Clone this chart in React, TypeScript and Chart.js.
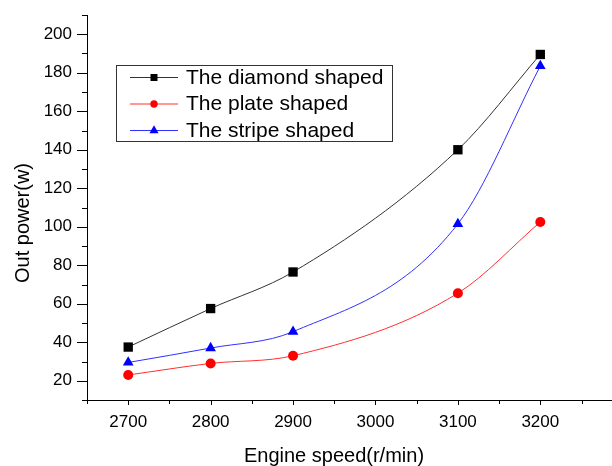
import React, { useEffect, useRef } from 'react';
import { Chart, registerables } from 'chart.js';

Chart.register(...registerables);

const speeds = [2700, 2800, 2900, 3100, 3200];
const diamond = [37.5, 57.5, 76.5, 140, 189.5];
const plate = [23, 29, 33, 65.5, 102.5];
const stripe = [29.5, 37, 45.5, 101.5, 183.5];
const seriesNames = ['The diamond shaped', 'The plate shaped', 'The stripe shaped'];
const seriesColors = ['#000000', '#ff0000', '#0000ff'];
const lineColors = ['#333333', '#ff3030', '#3030ff'];
const seriesMarkers = ['rect', 'circle', 'triangle'];
const xTicks = [2700, 2800, 2900, 3000, 3100, 3200];
const xMinorTicks = [2650, 2750, 2850, 2950, 3050, 3150, 3250];
const yTicks = [20, 40, 60, 80, 100, 120, 140, 160, 180, 200];
const yMinorTicks = [10, 30, 50, 70, 90, 110, 130, 150, 170, 190, 210];
const xTitle = 'Engine speed(r/min)';
const yTitle = 'Out power(w)';

const FONT = '"Liberation Sans", Arial, Helvetica, sans-serif';

function drawMarker(ctx: CanvasRenderingContext2D, style: string, x: number, y: number, s: number, color: string) {
  ctx.save();
  ctx.fillStyle = color;
  ctx.beginPath();
  if (style === 'rect') {
    ctx.rect(x - s, y - s, 2 * s, 2 * s);
  } else if (style === 'circle') {
    ctx.arc(x, y, s, 0, Math.PI * 2);
  } else {
    const r = s * 1.25;
    ctx.moveTo(x, y - r);
    ctx.lineTo(x + r * 0.866, y + r * 0.5);
    ctx.lineTo(x - r * 0.866, y + r * 0.5);
    ctx.closePath();
  }
  ctx.fill();
  ctx.restore();
}

const decorPlugin = {
  id: 'decor',
  afterDraw(chart: any) {
    const ctx: CanvasRenderingContext2D = chart.ctx;
    const xs = chart.scales.x;
    const ys = chart.scales.y;
    const area = chart.chartArea;
    ctx.save();
    ctx.strokeStyle = '#000';
    ctx.lineWidth = 1;
    ctx.beginPath();
    yTicks.forEach((v) => {
      const p = Math.round(ys.getPixelForValue(v)) + 0.5;
      ctx.moveTo(area.left - 10, p);
      ctx.lineTo(area.left, p);
    });
    yMinorTicks.forEach((v) => {
      const p = Math.round(ys.getPixelForValue(v)) + 0.5;
      ctx.moveTo(area.left - 5, p);
      ctx.lineTo(area.left, p);
    });
    xTicks.forEach((v) => {
      const p = Math.round(xs.getPixelForValue(v)) + 0.5;
      ctx.moveTo(p, area.bottom);
      ctx.lineTo(p, area.bottom + 5);
    });
    xMinorTicks.forEach((v) => {
      const p = Math.round(xs.getPixelForValue(v)) + 0.5;
      ctx.moveTo(p, area.bottom);
      ctx.lineTo(p, area.bottom + 4);
    });
    ctx.stroke();

    ctx.fillStyle = '#000';
    ctx.font = `20px ${FONT}`;
    ctx.textAlign = 'center';
    ctx.textBaseline = 'middle';
    ctx.fillText(xTitle, 334, 456);
    ctx.save();
    ctx.translate(23, 223);
    ctx.rotate(-Math.PI / 2);
    ctx.fillText(yTitle, 0, 0);
    ctx.restore();

    ctx.strokeStyle = '#333';
    ctx.lineWidth = 1;
    ctx.strokeRect(116.5, 65.5, 276, 76);
    const rows = [77, 103.5, 130];
    ctx.font = `21px ${FONT}`;
    ctx.textAlign = 'left';
    ctx.textBaseline = 'middle';
    rows.forEach((ry, i) => {
      ctx.strokeStyle = lineColors[i];
      ctx.beginPath();
      ctx.moveTo(130, ry + 0.5);
      ctx.lineTo(178, ry + 0.5);
      ctx.stroke();
      const s = seriesMarkers[i] === 'rect' ? 3.5 : seriesMarkers[i] === 'circle' ? 3.7 : 4.2;
      drawMarker(ctx, seriesMarkers[i], 154, ry + 0.5, s, seriesColors[i]);
      ctx.fillStyle = '#000';
      ctx.fillText(seriesNames[i], 186, ry + 1);
    });
    ctx.restore();
  },
};

export default function App() {
  const ref = useRef<HTMLCanvasElement | null>(null);
  useEffect(() => {
    document.body.style.margin = '0';
    if (!ref.current) return;
    const mk = (vals: number[]) => speeds.map((x, i) => ({ x, y: vals[i] }));
    const all = [diamond, plate, stripe];
    const chart = new Chart(ref.current, {
      type: 'line',
      data: {
        datasets: all.map((vals, i) => ({
          label: seriesNames[i],
          data: mk(vals),
          borderColor: lineColors[i],
          backgroundColor: seriesColors[i],
          borderWidth: 1,
          pointStyle: seriesMarkers[i] as any,
          pointRadius: seriesMarkers[i] === 'rect' ? 6.6 : seriesMarkers[i] === 'circle' ? 5 : 6.2,
          pointBorderWidth: 0,
          pointBackgroundColor: seriesColors[i],
          pointBorderColor: seriesColors[i],
          cubicInterpolationMode: 'monotone' as const,
          fill: false,
        })),
      },
      options: {
        responsive: false,
        animation: false,
        layout: { autoPadding: false, padding: { top: 15, right: 0, left: 0, bottom: 0 } },
        plugins: { legend: { display: false }, tooltip: { enabled: false }, title: { display: false } },
        scales: {
          x: {
            type: 'linear',
            min: 2650,
            max: 3287,
            grid: { display: false, drawTicks: false },
            border: { display: true, color: '#000', width: 1 },
            afterBuildTicks: (scale: any) => {
              scale.ticks = xTicks.map((v) => ({ value: v }));
            },
            afterFit: (scale: any) => {
              scale.height = 66;
              scale.paddingLeft = 0;
              scale.paddingRight = 0;
            },
            ticks: {
              padding: 12,
              color: '#000',
              font: { family: FONT, size: 17 },
              maxRotation: 0,
              autoSkip: false,
              callback: (v: any) => String(v),
            },
          },
          y: {
            type: 'linear',
            min: 10,
            max: 210,
            grid: { display: false, drawTicks: false },
            border: { display: true, color: '#000', width: 1 },
            afterBuildTicks: (scale: any) => {
              scale.ticks = yTicks.map((v) => ({ value: v }));
            },
            afterFit: (scale: any) => {
              scale.width = 87;
              scale.paddingTop = 0;
              scale.paddingBottom = 0;
            },
            ticks: {
              padding: 15,
              color: '#000',
              font: { family: FONT, size: 17 },
              autoSkip: false,
              callback: (v: any) => String(v),
            },
          },
        },
      },
      plugins: [decorPlugin],
    });
    return () => chart.destroy();
  }, []);
  return <canvas ref={ref} width={612} height={466} style={{ display: 'block' }} />;
}
